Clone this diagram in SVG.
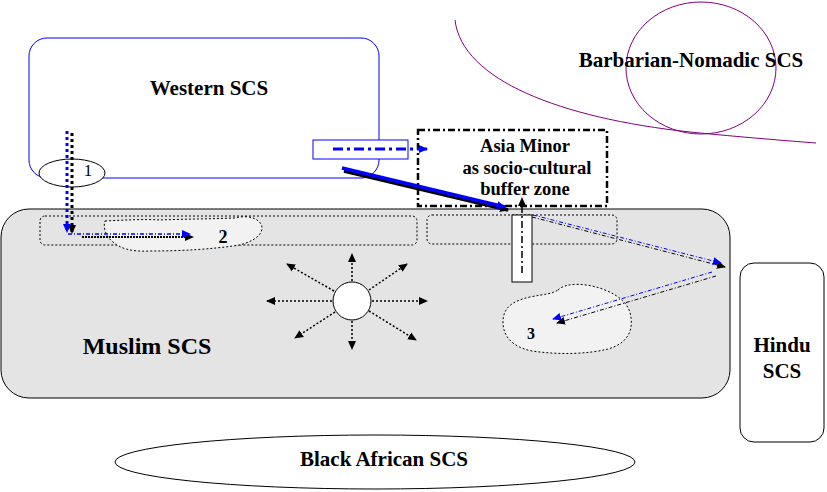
<svg xmlns="http://www.w3.org/2000/svg" width="827" height="492" viewBox="0 0 827 492">
<style>
.t{font-family:"Liberation Serif","Times New Roman",Times,"DejaVu Serif",serif;font-weight:bold;fill:#000;text-anchor:middle}
.lbl{font-family:"Liberation Serif","Times New Roman",Times,"DejaVu Serif",serif;fill:#000;text-anchor:middle}
.dotrect{fill:none;stroke:#000;stroke-width:1;stroke-dasharray:2,2}
.cloud{fill:#f2f2f2;stroke:#000;stroke-width:1;stroke-dasharray:2,2}
.star{stroke:#000;stroke-width:1.5;stroke-dasharray:2,2;fill:none;marker-end:url(#ak)}
</style>
<defs>
<marker id="ak" markerUnits="userSpaceOnUse" markerWidth="10" markerHeight="10" refX="8" refY="5" orient="auto">
<path d="M0,1 L9,5 L0,9 Z" fill="#000"/>
</marker>
<marker id="ab" markerUnits="userSpaceOnUse" markerWidth="10" markerHeight="10" refX="8" refY="5" orient="auto">
<path d="M0,1 L9,5 L0,9 Z" fill="#0000ff"/>
</marker>
</defs>
<rect width="827" height="492" fill="#fff"/>

<g id="barbarian">
<path d="M455,20 C462,80 560,118 690,132 C740,137 790,141 816,143" fill="none" stroke="#800080" stroke-width="1"/>
<ellipse cx="701" cy="68" rx="75" ry="66" fill="none" stroke="#800080" stroke-width="1"/>
<text class="t" x="691" y="67" font-size="21">Barbarian-Nomadic SCS</text>
</g>

<g id="western">
<rect x="29" y="38" width="350" height="140" rx="18" fill="#fff" stroke="#0000ff" stroke-width="1"/>
<text class="t" x="209" y="95" font-size="21">Western SCS</text>
</g>

<g id="muslim">
<rect x="1" y="209" width="729" height="189" rx="28" fill="#e4e4e4" stroke="#000" stroke-width="1"/>
<rect class="dotrect" x="40" y="216" width="377" height="29" rx="5"/>
<rect class="dotrect" x="427" y="215" width="190" height="29" rx="5"/>
<text class="t" x="147" y="354" font-size="24">Muslim SCS</text>
</g>

<g id="area2">
<path class="cloud" d="M105,221 C125,220 145,219 160,220 C185,219 210,219 235,218 C250,214 262,220 262,228 C262,236 250,244 233,246 C210,249 185,251 150,251 C130,252 120,248 113,242 C105,236 103,226 105,221 Z"/>
<text class="t" x="223" y="243" font-size="18">2</text>
</g>

<g id="area3">
<path class="cloud" d="M558,290 C566,282 588,283 605,290 C620,296 630,305 631,318 C633,332 626,344 608,349 C588,354 560,355 532,351 C512,347 503,336 503,322 C503,308 512,301 530,297 C545,294 552,294 558,290 Z"/>
<text class="t" x="531" y="339" font-size="16">3</text>
</g>

<g id="center">
<circle cx="352" cy="301" r="19" fill="#fff" stroke="#000" stroke-width="1"/>
</g>

<g id="node1">
<ellipse cx="72" cy="173" rx="33" ry="14" fill="#fff" stroke="#000" stroke-width="1"/>
<text class="lbl" x="88" y="176" font-size="17">1</text>
</g>

<g id="hindu">
<rect x="740" y="263" width="84" height="179" rx="14" fill="#fff" stroke="#000" stroke-width="1"/>
<text class="t" x="782" y="352" font-size="21">Hindu</text>
<text class="t" x="782" y="378" font-size="21">SCS</text>
</g>

<g id="african">
<ellipse cx="375" cy="462" rx="260" ry="27" fill="#fff" stroke="#000" stroke-width="1"/>
<text class="t" x="384" y="466" font-size="21">Black African SCS</text>
</g>

<g id="asia">
<rect x="418" y="130" width="189" height="76" fill="#fff" stroke="#000" stroke-width="2.5" stroke-dasharray="7,3,2,3"/>
<text class="t" x="525" y="152" font-size="18.5">Asia Minor</text>
<text class="t" x="527" y="174" font-size="18.5">as socio-cultural</text>
<text class="t" x="525" y="195" font-size="18.5">buffer zone</text>
</g>

<g id="gate">
<rect x="313" y="140" width="95" height="19" fill="#fff" stroke="#0000ff" stroke-width="1"/>
<rect x="512" y="215" width="20" height="67" fill="#fff" stroke="#000" stroke-width="1"/>
</g>

<g id="connectors">
<line x1="72" y1="133" x2="72" y2="233" stroke="#000" stroke-width="3" stroke-dasharray="3,3" marker-end="url(#ak)"/>
<line x1="67" y1="131" x2="67" y2="232" stroke="#0000ff" stroke-width="3" stroke-dasharray="3,3" marker-end="url(#ab)"/>
<line x1="82" y1="237" x2="193" y2="237" stroke="#000" stroke-width="2" stroke-dasharray="2,1" marker-end="url(#ak)"/>
<line x1="68" y1="234" x2="190" y2="234" stroke="#0000ff" stroke-width="1.5" stroke-dasharray="4,2,1,2" marker-end="url(#ab)"/>
<line class="star" x1="352" y1="281" x2="352" y2="254"/>
<line class="star" x1="352" y1="321" x2="352" y2="349"/>
<line class="star" x1="332" y1="301" x2="267" y2="301"/>
<line class="star" x1="372" y1="301" x2="427" y2="301"/>
<line class="star" x1="334" y1="291" x2="287" y2="264"/>
<line class="star" x1="369" y1="290" x2="407" y2="264"/>
<line class="star" x1="335" y1="312" x2="295" y2="338"/>
<line class="star" x1="369" y1="311" x2="416" y2="340"/>
<line x1="333" y1="149" x2="427" y2="149" stroke="#0000ff" stroke-width="3" stroke-dasharray="10,4,3,4" marker-end="url(#ab)"/>
<line x1="344" y1="171" x2="508" y2="210" stroke="#000" stroke-width="3.5" marker-end="url(#ak)"/>
<line x1="342" y1="168" x2="505" y2="207" stroke="#0000ff" stroke-width="3.5" marker-end="url(#ab)"/>
<line x1="522" y1="273" x2="522" y2="198" stroke="#000" stroke-width="1.5" stroke-dasharray="7,3,2,3" marker-end="url(#ak)"/>
<line x1="532" y1="217" x2="725" y2="267" stroke="#000" stroke-width="1" stroke-dasharray="4,2,1,2" marker-end="url(#ak)"/>
<line x1="533" y1="215" x2="721" y2="263" stroke="#0000ff" stroke-width="1" stroke-dasharray="4,2,1,2" marker-end="url(#ab)"/>
<line x1="716" y1="276" x2="557" y2="323" stroke="#000" stroke-width="1" stroke-dasharray="4,2,1,2" marker-end="url(#ak)"/>
<line x1="712" y1="272" x2="553" y2="319" stroke="#0000ff" stroke-width="1" stroke-dasharray="4,2,1,2" marker-end="url(#ab)"/>
</g>
</svg>
